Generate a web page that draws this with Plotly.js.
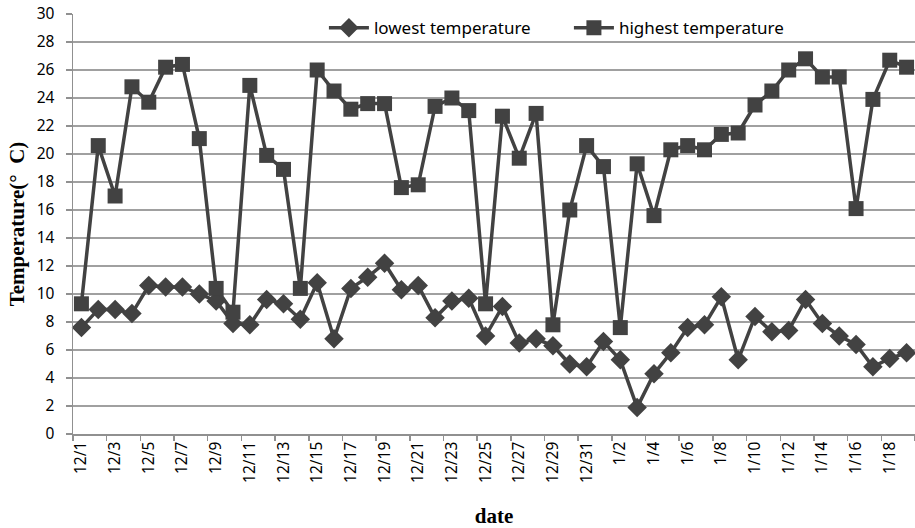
<!DOCTYPE html>
<html>
<head>
<meta charset="utf-8">
<script src="https://cdn.plot.ly/plotly-3.0.1.min.js"></script>
<style>html,body{margin:0;padding:0;background:#fff;}#chart{width:915px;height:528px;}</style>
</head>
<body>
<div id="chart"></div>
<script>
const dates = ["12/1","12/2","12/3","12/4","12/5","12/6","12/7","12/8","12/9","12/10",
"12/11","12/12","12/13","12/14","12/15","12/16","12/17","12/18","12/19","12/20",
"12/21","12/22","12/23","12/24","12/25","12/26","12/27","12/28","12/29","12/30","12/31",
"1/1","1/2","1/3","1/4","1/5","1/6","1/7","1/8","1/9","1/10",
"1/11","1/12","1/13","1/14","1/15","1/16","1/17","1/18","1/19"];

const lowestTemp = [7.6,8.9,8.9,8.6,10.6,10.5,10.5,10.0,9.5,7.9,
7.8,9.6,9.3,8.2,10.8,6.8,10.4,11.2,12.2,10.3,
10.6,8.3,9.5,9.7,7.0,9.1,6.5,6.8,6.3,5.0,4.8,
6.6,5.3,1.9,4.3,5.8,7.6,7.8,9.8,5.3,8.4,
7.3,7.4,9.6,7.9,7.0,6.4,4.8,5.4,5.8];

const highestTemp = [9.3,20.6,17.0,24.8,23.7,26.2,26.4,21.1,10.4,8.7,
24.9,19.9,18.9,10.4,26.0,24.5,23.2,23.6,23.6,17.6,
17.8,23.4,24.0,23.1,9.3,22.7,19.7,22.9,7.8,16.0,20.6,
19.1,7.6,19.3,15.6,20.3,20.6,20.3,21.4,21.5,23.5,
24.5,26.0,26.8,25.5,25.5,16.1,23.9,26.7,26.2];

const seriesNames = ["lowest temperature","highest temperature"];
const ink = "#424242";

const traces = [
  {x: dates, y: lowestTemp, name: seriesNames[0], type: "scatter", mode: "lines+markers",
   line: {color: ink, width: 3.5}, marker: {symbol: "diamond", size: 15, color: ink},
   cliponaxis: false},
  {x: dates, y: highestTemp, name: seriesNames[1], type: "scatter", mode: "lines+markers",
   line: {color: ink, width: 3.5}, marker: {symbol: "square", size: 15, color: ink},
   cliponaxis: false}
];

const layout = {
  width: 915, height: 528,
  margin: {l: 73, r: 0, t: 14, b: 94},
  paper_bgcolor: "#fff", plot_bgcolor: "#fff",
  font: {family: "Noto Sans, sans-serif", color: "#000", size: 15},
  showlegend: true,
  legend: {orientation: "h",
           x: 0.298, xanchor: "left", y: 0.966, yanchor: "middle",
           font: {size: 17, color: "#000"}, entrywidth: 190, entrywidthmode: "pixels",
           bgcolor: "rgba(0,0,0,0)", itemwidth: 40, tracegroupgap: 0},
  xaxis: {
    type: "category", range: [-0.5, 49.5], dtick: 2, tick0: 0,
    tickson: "boundaries", ticks: "outside", ticklen: 5, tickcolor: "#909090", tickwidth: 1.5,
    tickangle: -90, tickfont: {size: 15.5, color: "#000"},
    showline: true, linecolor: "#909090", linewidth: 1.5, showgrid: false, zeroline: false,
    title: {text: "<b>date</b>", font: {family: "Liberation Serif, serif", size: 21, color: "#000"}, standoff: 26}
  },
  yaxis: {
    range: [0, 30], dtick: 2, tick0: 0,
    ticks: "outside", ticklen: 6, tickcolor: "#909090", tickwidth: 1.5,
    tickfont: {size: 15.5, color: "#000"}, ticklabelstandoff: 8,
    showline: true, linecolor: "#909090", linewidth: 1.5,
    showgrid: true, gridcolor: "#a0a0a0", gridwidth: 1.5, zeroline: false,
    title: {text: "<b>Temperature(°  C)</b>", font: {family: "Liberation Serif, serif", size: 21, color: "#000"}, standoff: 6}
  }
};

Plotly.newPlot("chart", traces, layout, {staticPlot: true, displayModeBar: false});
</script>
</body>
</html>
